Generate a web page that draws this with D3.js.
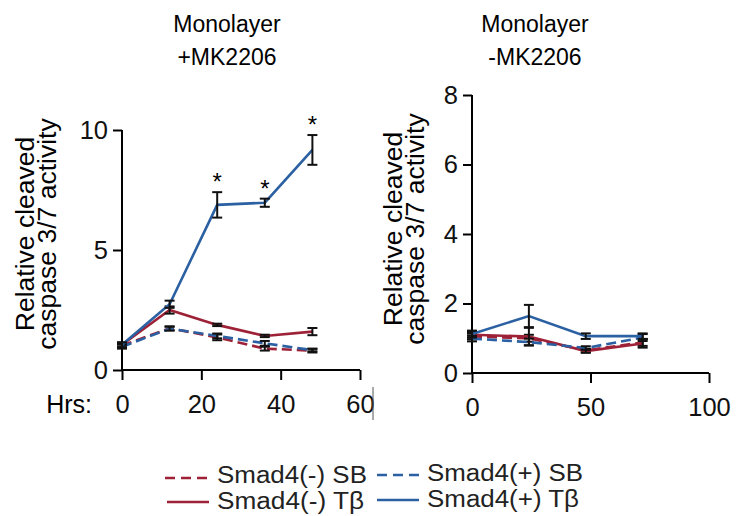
<!DOCTYPE html>
<html>
<head>
  <meta charset="utf-8">
  <script src="https://d3js.org/d3.v7.min.js"></script>
  <style>
    body { margin: 0; background: white; }
    svg { font-family: "Liberation Sans", Arial, sans-serif; }
    .axis path, .axis line { stroke: black; stroke-width: 2; }
    .axis text { fill: #111; }
  </style>
</head>
<body>
<script>
  // left panel: Monolayer +MK2206
  var hrsLeft = [0, 12, 24, 36, 48];
  var leftNegSB = [1.02, 1.74, 1.36, 0.89, 0.81];
  var leftNegSBErr = [0.08, 0.08, 0.12, 0.08, 0.08];
  var leftPosSB = [0.97, 1.72, 1.42, 1.11, 0.83];
  var leftPosSBErr = [0.08, 0.08, 0.1, 0.1, 0.05];
  var leftNegTb = [1.05, 2.5, 1.88, 1.42, 1.6];
  var leftNegTbErr = [0.1, 0.15, 0.05, 0.05, 0.15];
  var leftPosTb = [1.05, 2.74, 6.88, 6.97, 9.17];
  var leftPosTbErr = [0.1, 0.15, 0.53, 0.17, 0.62];
  var leftStars = [24, 36, 48];
  var leftXTicks = [0, 20, 40, 60];
  var leftYTicks = [0, 5, 10];

  // right panel: Monolayer -MK2206
  var hrsRight = [0, 24, 48, 72];
  var rightNegSB = [1.05, 1.0, 0.65, 0.88];
  var rightNegSBErr = [0.08, 0.1, 0.05, 0.1];
  var rightPosSB = [0.99, 0.89, 0.72, 1.02];
  var rightPosSBErr = [0.08, 0.1, 0.05, 0.1];
  var rightNegTb = [1.1, 1.05, 0.63, 0.85];
  var rightNegTbErr = [0.08, 0.25, 0.05, 0.12];
  var rightPosTb = [1.12, 1.64, 1.06, 1.06];
  var rightPosTbErr = [0.1, 0.32, 0.08, 0.08];
  var rightXTicks = [0, 50, 100];
  var rightYTicks = [0, 2, 4, 6, 8];

  var legendNames = ["Smad4(-) SB", "Smad4(+) SB", "Smad4(-) T\u03b2", "Smad4(+) T\u03b2"];

  var red = "#9e2237", blue = "#2b60a2";

  var svg = d3.select("body").append("svg")
      .attr("width", 736).attr("height", 516);

  function panel(opt) {
    var x = d3.scaleLinear().domain(opt.xDomain).range(opt.xRange);
    var y = d3.scaleLinear().domain(opt.yDomain).range(opt.yRange);
    var g = svg.append("g");

    // titles
    g.append("text").attr("x", opt.titleX).attr("y", 32).attr("text-anchor", "middle")
      .attr("font-size", 23).text("Monolayer");
    g.append("text").attr("x", opt.titleX).attr("y", 65).attr("text-anchor", "middle")
      .attr("font-size", 23).text(opt.sub);

    // y label
    var ly = g.append("text").attr("transform", "translate(" + opt.labX + "," + opt.labY + ") rotate(-90)")
      .attr("text-anchor", "middle").attr("font-size", 26.5);
    ly.append("tspan").attr("x", 0).attr("dy", 0).text("Relative cleaved");
    ly.append("tspan").attr("x", 0).attr("dy", 22).text("caspase 3/7 activity");

    // axes
    g.append("g").attr("class", "axis")
      .attr("transform", "translate(0," + opt.yRange[0] + ")")
      .call(d3.axisBottom(x).tickValues(opt.xTicks).tickSize(10).tickSizeOuter(0).tickPadding(15))
      .call(function(a) { a.selectAll("text").attr("font-size", 25.5); a.select(".domain").attr("d", "M" + opt.xRange[0] + ",0H" + opt.xRange[1]); });
    g.append("g").attr("class", "axis")
      .attr("transform", "translate(" + opt.xRange[0] + ",0)")
      .call(d3.axisLeft(y).tickValues(opt.yTicks).tickSize(9).tickSizeOuter(0).tickPadding(5))
      .call(function(a) { a.selectAll("text").attr("font-size", 25.5); a.select(".domain").attr("d", "M0," + opt.yRange[0] + "V" + opt.yRange[1]); });

    var line = d3.line().x(function(d) { return x(d[0]); }).y(function(d) { return y(d[1]); });

    opt.series.forEach(function(s) {
      var pts = opt.hrs.map(function(h, i) { return [h, s.v[i], s.e[i]]; });
      g.append("path").datum(pts).attr("d", line)
        .attr("fill", "none").attr("stroke", s.color).attr("stroke-width", 2.6)
        .attr("stroke-dasharray", s.dash ? "10,5" : null);
      var eb = g.append("g").selectAll("g").data(pts).enter().append("g");
      eb.append("line").attr("x1", function(d) { return x(d[0]); }).attr("x2", function(d) { return x(d[0]); })
        .attr("y1", function(d) { return y(d[1] + d[2]); }).attr("y2", function(d) { return y(d[1] - d[2]); })
        .attr("stroke", "#111").attr("stroke-width", 2);
      [1, -1].forEach(function(sg) {
        eb.append("line").attr("x1", function(d) { return x(d[0]) - 5; }).attr("x2", function(d) { return x(d[0]) + 5; })
          .attr("y1", function(d) { return y(d[1] + sg * d[2]); }).attr("y2", function(d) { return y(d[1] + sg * d[2]); })
          .attr("stroke", "#111").attr("stroke-width", 2);
      });
    });
    return {x: x, y: y, g: g};
  }

  var L = panel({
    xDomain: [0, 60], xRange: [122, 360], yDomain: [0, 10], yRange: [370, 130],
    xTicks: leftXTicks, yTicks: leftYTicks, titleX: 227, sub: "+MK2206",
    labX: 34, labY: 234, hrs: hrsLeft,
    series: [
      {v: leftNegTb, e: leftNegTbErr, color: red, dash: false},
      {v: leftNegSB, e: leftNegSBErr, color: red, dash: true},
      {v: leftPosSB, e: leftPosSBErr, color: blue, dash: true},
      {v: leftPosTb, e: leftPosTbErr, color: blue, dash: false}
    ]
  });
  L.g.append("text").attr("x", 92).attr("y", 413).attr("text-anchor", "end")
    .attr("font-size", 25).text("Hrs:");
  L.g.selectAll(".star").data(leftStars).enter().append("text")
    .attr("x", function(d) { return L.x(d); })
    .attr("y", function(d) { var i = hrsLeft.indexOf(d); return L.y(leftPosTb[i] + leftPosTbErr[i]) - 2; })
    .attr("text-anchor", "middle").attr("font-size", 24).text("*");
  // small cropping mark next to last tick
  L.g.append("line").attr("x1", 373).attr("x2", 373).attr("y1", 387).attr("y2", 420)
    .attr("stroke", "#555").attr("stroke-width", 1);

  panel({
    xDomain: [0, 100], xRange: [472, 709], yDomain: [0, 8], yRange: [373, 95],
    xTicks: rightXTicks, yTicks: rightYTicks, titleX: 535, sub: "-MK2206",
    labX: 402, labY: 229, hrs: hrsRight,
    series: [
      {v: rightNegSB, e: rightNegSBErr, color: red, dash: true},
      {v: rightNegTb, e: rightNegTbErr, color: red, dash: false},
      {v: rightPosSB, e: rightPosSBErr, color: blue, dash: true},
      {v: rightPosTb, e: rightPosTbErr, color: blue, dash: false}
    ]
  });

  // legend
  var legPos = [[165, 478, 483, true, red, 150], [377, 475, 481, true, blue, 156],
                [167, 502, 509, false, red, 147], [377, 500, 507, false, blue, 152]];
  var lg = svg.append("g");
  legendNames.forEach(function(n, i) {
    var p = legPos[i];
    lg.append("line").attr("x1", p[0]).attr("x2", p[0] + 42).attr("y1", p[1]).attr("y2", p[1])
      .attr("stroke", p[4]).attr("stroke-width", 2.6).attr("stroke-dasharray", p[3] ? "10,6" : null);
    lg.append("text").attr("x", i % 2 ? 427 : 217).attr("y", p[2]).attr("font-size", 23)
      .attr("textLength", p[5]).attr("lengthAdjust", "spacingAndGlyphs")
      .attr("fill", "#222").text(n);
  });
</script>
</body>
</html>
